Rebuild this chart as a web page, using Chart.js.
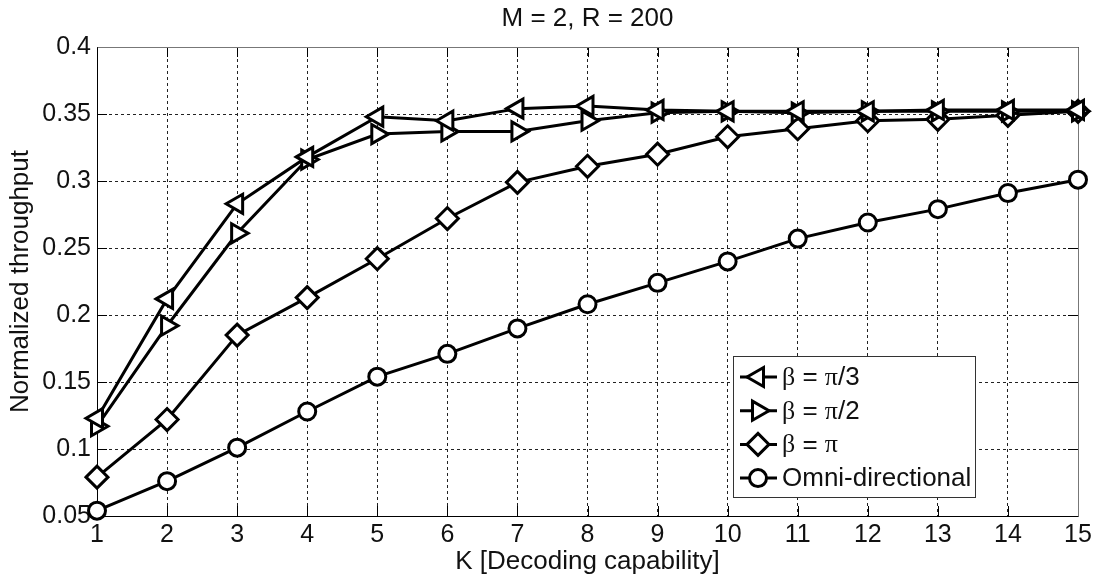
<!DOCTYPE html>
<html>
<head>
<meta charset="utf-8">
<script src="https://cdn.jsdelivr.net/npm/chart.js@4/dist/chart.umd.min.js"></script>
<style>
  html, body { margin: 0; padding: 0; background: #fff; }
  #wrap { width: 1102px; height: 583px; }
</style>
</head>
<body>
<div id="wrap"><canvas id="chart" width="1102" height="583"></canvas></div>
<script>
// data
const K = [1, 2, 3, 4, 5, 6, 7, 8, 9, 10, 11, 12, 13, 14, 15];
const betaPi3 = [0.123, 0.212, 0.283, 0.318, 0.348, 0.345, 0.354, 0.356, 0.353, 0.352, 0.352, 0.352, 0.353, 0.353, 0.353];
const betaPi2 = [0.117, 0.192, 0.261, 0.316, 0.335, 0.337, 0.337, 0.345, 0.351, 0.352, 0.351, 0.352, 0.352, 0.352, 0.352];
const betaPi = [0.079, 0.122, 0.185, 0.213, 0.242, 0.272, 0.299, 0.311, 0.320, 0.333, 0.339, 0.345, 0.346, 0.349, 0.352];
const omni = [0.054, 0.076, 0.101, 0.128, 0.154, 0.171, 0.190, 0.208, 0.224, 0.240, 0.257, 0.269, 0.279, 0.291, 0.301];
const TITLE = "M = 2, R = 200";

const FONT = "'Liberation Sans', Arial, sans-serif";
const TEXT = "#111";

function series(label, values, style, rotation, radius) {
  return {
    label,
    data: K.map((k, i) => ({ x: k, y: values[i] })),
    borderColor: "#000",
    borderWidth: 3,
    pointStyle: style,
    rotation,
    pointRadius: radius,
    pointBackgroundColor: "#fff",
    pointBorderColor: "#000",
    pointBorderWidth: 3,
    tension: 0,
    clip: false,
  };
}

// solid box + MATLAB style inward ticks, title centred over the axes
const boxAndTicks = {
  id: "boxAndTicks",
  beforeDatasetsDraw(chart) {
    const { ctx, chartArea: a, scales } = chart;
    const x = scales.x, y = scales.y;
    const len = 10;
    ctx.save();
    ctx.lineWidth = 1;
    ctx.strokeStyle = "#000";
    ctx.beginPath();
    x.ticks.forEach((t) => {
      const px = Math.round(x.getPixelForValue(t.value)) + 0.5;
      ctx.moveTo(px, a.bottom); ctx.lineTo(px, a.bottom - len);
      ctx.moveTo(px, a.top); ctx.lineTo(px, a.top + len);
    });
    y.ticks.forEach((t) => {
      const py = Math.round(y.getPixelForValue(t.value)) + 0.5;
      ctx.moveTo(a.left, py); ctx.lineTo(a.left + len, py);
      ctx.moveTo(a.right, py); ctx.lineTo(a.right - len, py);
    });
    ctx.stroke();

    const l = Math.round(a.left) + 0.5, r = Math.round(a.right) + 0.5;
    const t = Math.round(a.top) + 0.5, b = Math.round(a.bottom) + 0.5;
    ctx.strokeStyle = "#777";
    ctx.beginPath();
    ctx.moveTo(l, t); ctx.lineTo(r, t); ctx.lineTo(r, b);
    ctx.stroke();
    ctx.strokeStyle = "#000";
    ctx.beginPath();
    ctx.moveTo(l, t); ctx.lineTo(l, b); ctx.lineTo(r, b);
    ctx.stroke();

    ctx.fillStyle = TEXT;
    ctx.font = "26px " + FONT;
    ctx.textAlign = "center";
    ctx.textBaseline = "middle";
    ctx.fillText(TITLE, (a.left + a.right) / 2, 19);
    ctx.restore();
  },
};

// greek letters in a serif face, like the Symbol font of the original
function drawMixed(ctx, str, x, y, size) {
  let cx = x;
  for (const ch of str) {
    ctx.font = /[α-ω]/.test(ch) ? size + "px 'Liberation Serif', serif" : size + "px " + FONT;
    ctx.fillText(ch, cx, y);
    cx += ctx.measureText(ch).width;
  }
}

// legend inside the axes, lower right
const insideLegend = {
  id: "insideLegend",
  afterDraw(chart) {
    const { ctx, chartArea: a } = chart;
    const w = 242, h = 141;
    const right = Math.round(a.right - 103), bottom = Math.round(a.bottom - 19);
    const left = right - w, top = bottom - h;
    ctx.save();
    ctx.fillStyle = "#fff";
    ctx.fillRect(left, top, w, h);
    ctx.strokeStyle = "#333";
    ctx.lineWidth = 1;
    ctx.strokeRect(left + 0.5, top + 0.5, w, h);

    chart.data.datasets.forEach((ds, i) => {
      const cy = top + 21 + i * 33.7;
      ctx.strokeStyle = "#000";
      ctx.lineWidth = 3;
      ctx.beginPath();
      ctx.moveTo(left + 7, cy);
      ctx.lineTo(left + 44, cy);
      ctx.stroke();
      ctx.fillStyle = "#fff";
      Chart.helpers.drawPoint(ctx, {
        pointStyle: ds.pointStyle,
        rotation: ds.rotation,
        radius: ds.pointRadius,
        borderWidth: 3,
      }, left + 25, cy);
      ctx.fillStyle = TEXT;
      ctx.textBaseline = "middle";
      ctx.textAlign = "left";
      drawMixed(ctx, ds.label, left + 49, cy + 1, 26);
    });
    ctx.restore();
  },
};

new Chart(document.getElementById("chart"), {
  type: "line",
  data: {
    datasets: [
      series("β = π/3", betaPi3, "triangle", -90, 11),
      series("β = π/2", betaPi2, "triangle", 90, 11),
      series("β = π", betaPi, "rectRot", 0, 11),
      series("Omni-directional", omni, "circle", 0, 8.5),
    ],
  },
  options: {
    responsive: false,
    animation: false,
    devicePixelRatio: 1,
    layout: { padding: { left: 0, right: 24, top: 47, bottom: 0 } },
    plugins: {
      legend: { display: false },
      tooltip: { enabled: false },
      title: { display: false },
    },
    scales: {
      x: {
        type: "linear",
        min: 1,
        max: 15,
        afterFit: (s) => { s.height = 67; },
        ticks: {
          stepSize: 1,
          autoSkip: false,
          maxRotation: 0,
          padding: 4,
          color: TEXT,
          font: { family: FONT, size: 25 },
        },
        grid: { color: "#222", lineWidth: 1, drawTicks: false },
        border: { display: false, dash: [3, 3] },
        title: {
          display: true,
          text: "K [Decoding capability]",
          color: TEXT,
          font: { family: FONT, size: 26 },
          padding: { top: 0, bottom: 6 },
        },
      },
      y: {
        min: 0.05,
        max: 0.4,
        afterFit: (s) => { s.width = 97; },
        ticks: {
          stepSize: 0.05,
          padding: 6,
          color: TEXT,
          font: { family: FONT, size: 25 },
          callback: (v) => String(+v.toFixed(2)),
        },
        grid: { color: "#222", lineWidth: 1, drawTicks: false },
        border: { display: false, dash: [3, 3] },
        title: {
          display: true,
          text: "Normalized throughput",
          color: TEXT,
          font: { family: FONT, size: 26 },
          padding: { top: 5, bottom: 0 },
        },
      },
    },
  },
  plugins: [boxAndTicks, insideLegend],
});
</script>
</body>
</html>
